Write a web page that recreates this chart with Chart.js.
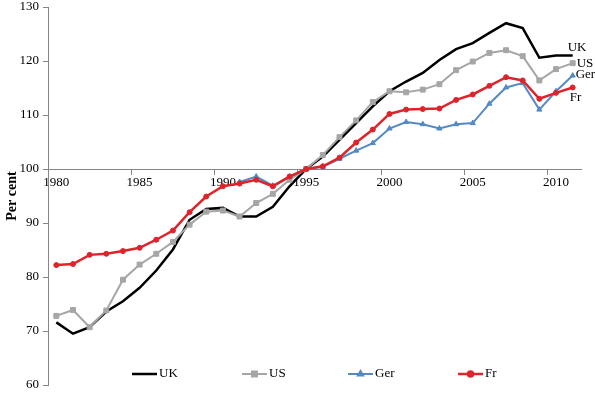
<!DOCTYPE html>
<html>
<head>
<meta charset="utf-8">
<script src="https://cdn.jsdelivr.net/npm/chart.js@4.4.0/dist/chart.umd.min.js"></script>
<style>
  html, body { margin: 0; padding: 0; background: #fff; }
  #wrap { width: 595px; height: 393px; }
</style>
</head>
<body>
<div id="wrap"><canvas id="chart" width="595" height="393"></canvas></div>
<script>
// -------- DATA --------
const years = [1980, 1981, 1982, 1983, 1984, 1985, 1986, 1987, 1988, 1989,
  1990, 1991, 1992, 1993, 1994, 1995, 1996, 1997, 1998, 1999,
  2000, 2001, 2002, 2003, 2004, 2005, 2006, 2007, 2008, 2009, 2010, 2011];

const uk = [71.6, 69.5, 70.7, 73.6, 75.5, 78.0, 81.2, 85.1, 90.6, 92.6,
  92.8, 91.2, 91.2, 93.0, 96.8, 100.0, 102.3, 105.4, 108.5, 111.6,
  114.4, 116.2, 117.8, 120.2, 122.2, 123.3, 125.2, 127.0, 126.1, 120.6, 121.0, 121.0];

const us = [72.8, 73.9, 70.7, 73.8, 79.5, 82.3, 84.3, 86.5, 89.7, 92.1,
  92.3, 91.2, 93.7, 95.4, 98.0, 100.0, 102.6, 105.9, 109.0, 112.4,
  114.4, 114.2, 114.7, 115.7, 118.3, 119.9, 121.5, 122.0, 120.9, 116.4, 118.5, 119.6];

const ger = [null, null, null, null, null, null, null, null, null, null,
  null, 97.6, 98.6, 96.9, 98.6, 100.0, 100.4, 101.9, 103.4, 104.8,
  107.5, 108.7, 108.3, 107.5, 108.3, 108.5, 112.1, 115.1, 115.9, 111.0, 114.4, 117.3];

const fr = [82.2, 82.4, 84.1, 84.3, 84.8, 85.4, 86.9, 88.6, 92.0, 94.9,
  96.8, 97.3, 98.0, 96.8, 98.6, 100.0, 100.5, 102.1, 104.9, 107.3,
  110.2, 111.0, 111.1, 111.2, 112.8, 113.8, 115.4, 117.0, 116.4, 113.0, 114.1, 115.1];

const seriesNames = ["UK", "US", "Ger", "Fr"];
const yMin = 60, yMax = 130, yStep = 10;
const crossAt = 100; // x axis crosses here

// -------- STYLE --------
const FONT = "'Liberation Serif', 'Times New Roman', serif";
const AXIS = "#868686";

// end-of-line labels (offset from last point)
const endLabelOffset = [[-5, -8], [4, 0], [3, -1], [-3, 10]];
// legend, x of each line start
const legendX = [132, 242, 348, 458];
const legendY = 374;

function drawMarker(ctx, ds, x, y) {
  if (!ds.pointRadius) return;
  Chart.helpers.drawPoint(ctx, {
    pointStyle: ds.pointStyle,
    radius: ds.pointRadius,
    borderWidth: 1
  }, x, y);
}

const extras = {
  id: "extras",
  afterDatasetsDraw(chart) {
    const ctx = chart.ctx;
    ctx.save();
    ctx.font = "13px " + FONT;
    ctx.fillStyle = "#000";
    ctx.textBaseline = "middle";
    ctx.textAlign = "left";

    chart.data.datasets.forEach((ds, i) => {
      // label at end of line
      const pts = chart.getDatasetMeta(i).data;
      const last = pts[pts.length - 1];
      ctx.fillStyle = "#000";
      ctx.fillText(ds.label, last.x + endLabelOffset[i][0], last.y + endLabelOffset[i][1]);

      // legend
      const x0 = legendX[i];
      ctx.strokeStyle = ds.borderColor;
      ctx.lineWidth = ds.borderWidth;
      ctx.beginPath();
      ctx.moveTo(x0, legendY);
      ctx.lineTo(x0 + 25, legendY);
      ctx.stroke();
      ctx.fillStyle = ds.pointBackgroundColor;
      ctx.strokeStyle = ds.borderColor;
      drawMarker(ctx, ds, x0 + 12.5, legendY);
      ctx.fillStyle = "#000";
      ctx.fillText(ds.label, x0 + 27, legendY);
    });
    ctx.restore();
  }
};

function serie(label, data, color, width, style, radius, order) {
  return {
    label, data,
    borderColor: color,
    backgroundColor: color,
    pointBackgroundColor: color,
    pointBorderColor: color,
    borderWidth: width,
    pointStyle: style,
    pointRadius: radius,
    pointBorderWidth: 1,
    tension: 0,
    spanGaps: false,
    order
  };
}

const chart = new Chart(document.getElementById("chart").getContext("2d"), {
  type: "line",
  data: {
    labels: years,
    datasets: [
      serie(seriesNames[0], uk, "#000000", 2.5, false, 0, 4),
      serie(seriesNames[1], us, "#A6A6A6", 2, "rect", 3.5, 3),
      serie(seriesNames[2], ger, "#5589C4", 2, "triangle", 3, 2),
      serie(seriesNames[3], fr, "#DE242B", 2.5, "circle", 2.5, 1)
    ]
  },
  options: {
    responsive: false,
    devicePixelRatio: 1,
    animation: false,
    layout: { padding: { top: 7, right: 14, bottom: 8, left: 0 } },
    plugins: {
      legend: { display: false },
      tooltip: { enabled: false }
    },
    scales: {
      x: {
        type: "category",
        position: { y: crossAt },
        offset: true,
        grid: {
          offset: true,
          drawOnChartArea: false,
          drawTicks: true,
          tickLength: 5,
          color: (c) => (c.index % 5 === 0 ? AXIS : "rgba(0,0,0,0)")
        },
        border: { color: AXIS, width: 1 },
        ticks: {
          autoSkip: false,
          maxRotation: 0,
          padding: 1,
          color: "#000",
          font: { family: FONT, size: 13 },
          callback: (v, i) => (i % 5 === 0 ? String(years[i]) : "")
        }
      },
      y: {
        min: yMin,
        max: yMax,
        afterFit: (s) => {
          s.width = 48;
          s.paddingTop = 0;
          s.paddingBottom = 0;
        },
        grid: { drawOnChartArea: false, tickLength: 5, color: AXIS },
        border: { color: AXIS, width: 1 },
        ticks: {
          stepSize: yStep,
          padding: 4,
          color: "#000",
          font: { family: FONT, size: 13 }
        },
        title: {
          display: true,
          text: "Per cent",
          color: "#000",
          padding: { top: 4, bottom: 0 },
          font: { family: FONT, size: 14, weight: "bold" }
        }
      }
    }
  },
  plugins: [extras]
});
</script>
</body>
</html>
